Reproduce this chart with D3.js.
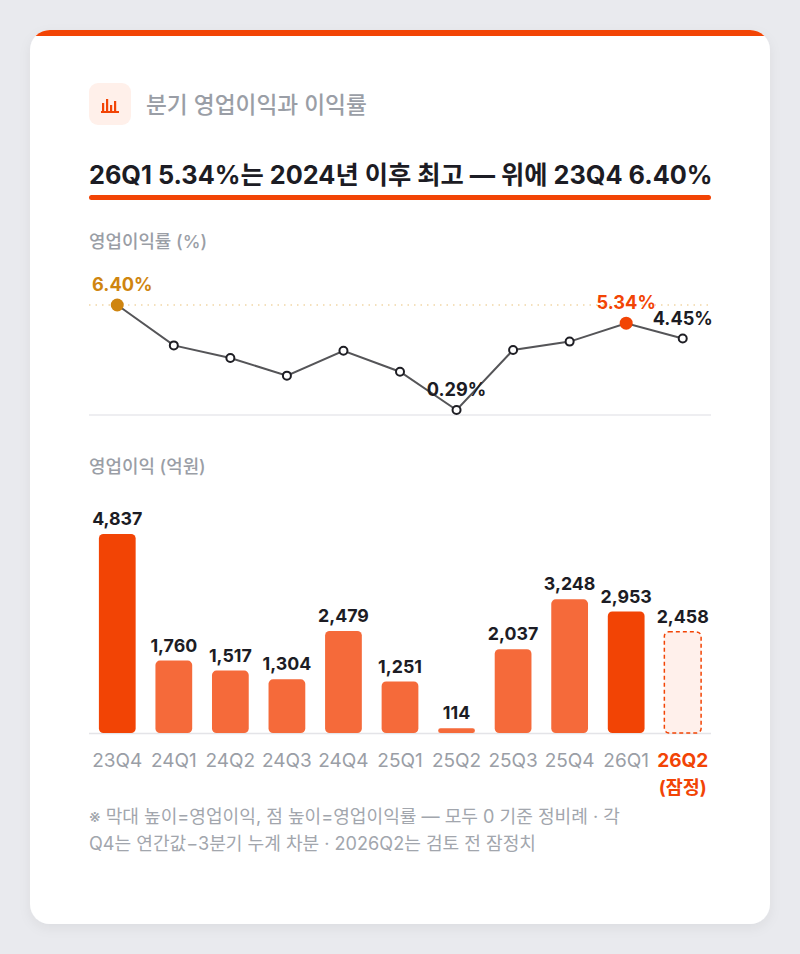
<!DOCTYPE html>
<html>
<head>
<meta charset="utf-8">
<script src="https://cdn.jsdelivr.net/npm/d3@7"></script>
<style>
body{margin:0;background:#e9eaee;font-family:Inter,"Noto Sans CJK KR",sans-serif;}
</style>
</head>
<body>
<script>
var width = 800;
var height = 954;

// data
var quarters = ["23Q4","24Q1","24Q2","24Q3","24Q4","25Q1","25Q2","25Q3","25Q4","26Q1","26Q2"];
var profit = [4837,1760,1517,1304,2479,1251,114,2037,3248,2953,2458];
var margin = [6.40,4.05,3.32,2.29,3.74,2.52,0.29,3.78,4.27,5.34,4.45];
var marginLabels = {"23Q4":"6.40%","25Q2":"0.29%","26Q1":"5.34%","26Q2":"4.45%"};

var orange = "#f24405";
var orangeLight = "#f56a3a";
var gold = "#cf8510";
var font = "Inter, 'Noto Sans CJK KR', sans-serif";

var svg = d3.select("body")
.append("svg")
.attr("width",width)
.attr("height",height)
.style("display","block");

var defs = svg.append("defs");
var filter = defs.append("filter").attr("id","shadow").attr("x","-10%").attr("y","-10%").attr("width","120%").attr("height","120%");
filter.append("feDropShadow").attr("dx",0).attr("dy",4).attr("stdDeviation",6).attr("flood-color","#000").attr("flood-opacity",0.06);
defs.append("clipPath").attr("id","cardclip")
.append("rect").attr("x",30).attr("y",30).attr("width",740).attr("height",894).attr("rx",20);

// card
svg.append("rect")
.attr("x",30).attr("y",30).attr("width",740).attr("height",894).attr("rx",20)
.attr("fill","#fff").attr("filter","url(#shadow)");
svg.append("rect")
.attr("x",30).attr("y",30).attr("width",740).attr("height",6)
.attr("fill",orange).attr("clip-path","url(#cardclip)");

// icon
svg.append("rect").attr("x",89).attr("y",83).attr("width",42).attr("height",42).attr("rx",9).attr("fill","#fff0ea");
var iconBars = [[102,9],[106,13],[110,7],[114,11]];
svg.selectAll(".ib").data(iconBars).enter().append("rect")
.attr("x",function(d){return d[0];}).attr("y",function(d){return 112-d[1];})
.attr("width",2.2).attr("height",function(d){return d[1];}).attr("fill",orange);
svg.append("rect").attr("x",101).attr("y",111).attr("width",18).attr("height",2).attr("fill",orange);

svg.append("text").attr("x",146).attr("y",113)
.attr("font-family",font).attr("font-size","22.7px").attr("fill","#9a9ea6").attr("font-weight",500)
.text("분기 영업이익과 이익률");

// headline
svg.append("text").attr("x",89).attr("y",184)
.attr("font-family",font).attr("font-size","25.3px").attr("font-weight",700).attr("fill","#1c1c24")
.text("26Q1 5.34%는 2024년 이후 최고 — 위에 23Q4 6.40%");
svg.append("rect").attr("x",89).attr("y",195).attr("width",622).attr("height",5).attr("rx",2.5).attr("fill",orange);

// section labels
svg.append("text").attr("x",89).attr("y",248)
.attr("font-family",font).attr("font-size","17.9px").attr("font-weight",500).attr("fill","#9a9ea6")
.text("영업이익률 (%)");
svg.append("text").attr("x",89).attr("y",473)
.attr("font-family",font).attr("font-size","17.9px").attr("font-weight",500).attr("fill","#9a9ea6")
.text("영업이익 (억원)");

// scales
var x = d3.scaleBand()
.domain(quarters)
.range([89,711])
.paddingInner(0.35)
.paddingOuter(0.175);

var yLine = d3.scaleLinear()
.domain([0,6.4])
.range([415,305]);

var yBar = d3.scaleLinear()
.domain([0,d3.max(profit)])
.range([733,534]);

function cx(q){ return x(q) + x.bandwidth()/2; }

// line chart
svg.append("line").attr("x1",89).attr("x2",711).attr("y1",yLine(0)).attr("y2",yLine(0))
.attr("stroke","#e8e8ec").attr("stroke-width",1.5);
svg.append("line").attr("x1",89).attr("x2",711).attr("y1",yLine(6.4)).attr("y2",yLine(6.4))
.attr("stroke","#e9c27a").attr("stroke-width",1.2).attr("stroke-dasharray","1.5,5");

var line = d3.line()
.x(function(d,i){ return cx(quarters[i]); })
.y(function(d){ return yLine(d); });

svg.append("path").datum(margin)
.attr("d",line).attr("fill","none").attr("stroke","#555558").attr("stroke-width",2);

svg.selectAll(".pt").data(margin).enter().append("circle")
.attr("cx",function(d,i){ return cx(quarters[i]); })
.attr("cy",function(d){ return yLine(d); })
.attr("r",function(d,i){ return (i==0||i==9) ? 6.5 : 4; })
.attr("fill",function(d,i){ return i==0 ? gold : (i==9 ? orange : "#fff"); })
.attr("stroke",function(d,i){ return i==0 ? gold : (i==9 ? orange : "#1e1e24"); })
.attr("stroke-width",function(d,i){ return (i==0||i==9) ? 0 : 2; });

svg.selectAll(".ml").data(quarters.filter(function(q){ return marginLabels[q]; })).enter().append("text")
.attr("x",function(q){ return cx(q) + (q=="23Q4" ? 5 : 0); })
.attr("y",function(q){ return yLine(margin[quarters.indexOf(q)]) - 14; })
.attr("text-anchor","middle")
.attr("font-family",font).attr("font-size","18.2px").attr("font-weight",700)
.attr("fill",function(q){ return q=="23Q4" ? gold : (q=="26Q1" ? orange : "#1c1c24"); })
.text(function(q){ return marginLabels[q]; });

// bar chart
svg.append("line").attr("x1",89).attr("x2",711).attr("y1",yBar(0)+0.5).attr("y2",yBar(0)+0.5)
.attr("stroke","#e4e4e8").attr("stroke-width",1.5);

svg.selectAll(".bar").data(profit).enter().append("rect")
.attr("x",function(d,i){ return x(quarters[i]); })
.attr("y",function(d){ return yBar(d); })
.attr("width",x.bandwidth())
.attr("height",function(d){ return yBar(0)-yBar(d); })
.attr("rx",function(d){ return Math.min(4.5,(yBar(0)-yBar(d))/2); })
.attr("fill",function(d,i){
	if(i==10) return "#fff0eb";
	return (i==0||i==9) ? orange : orangeLight;
})
.attr("stroke",function(d,i){ return i==10 ? orange : "none"; })
.attr("stroke-width",1.5)
.attr("stroke-dasharray",function(d,i){ return i==10 ? "4,3" : null; });

svg.selectAll(".bl").data(profit).enter().append("text")
.attr("x",function(d,i){ return cx(quarters[i]); })
.attr("y",function(d){ return yBar(d) - 9; })
.attr("text-anchor","middle")
.attr("font-family",font).attr("font-size","17.8px").attr("font-weight",700).attr("fill","#1c1c24")
.text(function(d){ return d3.format(",")(d); });

svg.selectAll(".xl").data(quarters).enter().append("text")
.attr("x",function(q){ return cx(q); })
.attr("y",767)
.attr("text-anchor","middle")
.attr("font-family",font).attr("font-size","19px")
.attr("font-weight",function(q,i){ return i==10 ? 700 : 400; })
.attr("fill",function(q,i){ return i==10 ? orange : "#9a9ea6"; })
.text(function(q){ return q; });

svg.append("text").attr("x",cx("26Q2")).attr("y",794)
.attr("text-anchor","middle")
.attr("font-family",font).attr("font-size","18.5px").attr("font-weight",700).attr("fill",orange)
.text("(잠정)");

// footnote
svg.append("text").attr("x",89).attr("y",823)
.attr("font-family",font).attr("font-size","18.1px").attr("fill","#a2a6ad")
.text("※ 막대 높이=영업이익, 점 높이=영업이익률 — 모두 0 기준 정비례 · 각");
svg.append("text").attr("x",89).attr("y",850)
.attr("font-family",font).attr("font-size","18.1px").attr("fill","#a2a6ad")
.text("Q4는 연간값−3분기 누계 차분 · 2026Q2는 검토 전 잠정치");
</script>
</body>
</html>
